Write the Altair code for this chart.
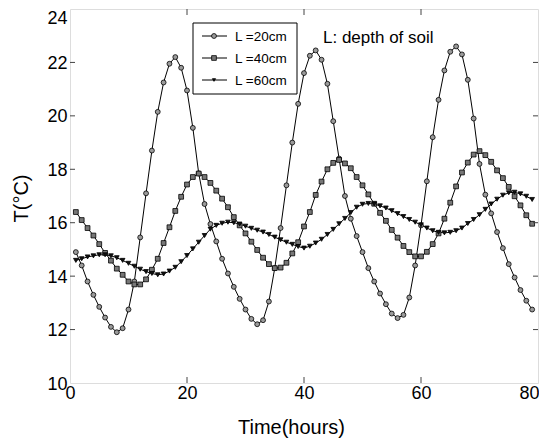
import altair as alt
import pandas as pd

# ---------------- data ----------------
hours = list(range(1, 80))

temp_20cm = [14.9, 14.4, 13.8, 13.3, 12.85, 12.45, 12.1, 11.9, 12.05, 12.75,
             13.8, 15.45, 17.1, 18.7, 20.15, 21.25, 21.95, 22.2, 21.8, 20.95,
             19.55, 17.85, 16.7, 15.95, 15.3, 14.65, 14.1, 13.6, 13.15, 12.75,
             12.4, 12.2, 12.35, 13.05, 14.3, 15.8, 17.4, 19.0, 20.45, 21.6,
             22.25, 22.45, 22.1, 21.2, 19.8, 18.4, 17.0, 16.15, 15.5, 14.9,
             14.3, 13.8, 13.35, 12.95, 12.6, 12.43, 12.55, 13.2, 14.4, 15.9,
             17.55, 19.2, 20.6, 21.7, 22.4, 22.6, 22.3, 21.35, 19.9, 18.2,
             17.05, 16.35, 15.65, 15.05, 14.45, 13.95, 13.48, 13.08, 12.75]

temp_40cm = [16.4, 16.1, 15.8, 15.52, 15.2, 14.87, 14.58, 14.28, 14.05, 13.8,
             13.69, 13.69, 13.88, 14.24, 14.65, 15.24, 15.83, 16.44, 16.97, 17.43,
             17.71, 17.84, 17.71, 17.49, 17.2, 16.9, 16.58, 16.21, 15.9, 15.6,
             15.29, 14.98, 14.69, 14.45, 14.3, 14.32, 14.5, 14.85, 15.27, 15.86,
             16.4, 17.04, 17.54, 18.0, 18.24, 18.35, 18.22, 18.04, 17.71, 17.4,
             17.06, 16.71, 16.37, 16.07, 15.73, 15.44, 15.13, 14.9, 14.74, 14.74,
             14.91, 15.2, 15.6, 16.15, 16.75, 17.36, 17.88, 18.25, 18.55, 18.68,
             18.53, 18.28, 17.96, 17.67, 17.34, 16.99, 16.65, 16.28, 15.96]

temp_60cm = [14.59, 14.65, 14.72, 14.76, 14.8, 14.8, 14.76, 14.69, 14.59, 14.48,
             14.37, 14.26, 14.17, 14.1, 14.05, 14.08, 14.19, 14.33, 14.54, 14.77,
             15.02, 15.27, 15.52, 15.76, 15.9, 15.98, 16.02, 16.0, 15.95, 15.87,
             15.79, 15.72, 15.65, 15.56, 15.46, 15.36, 15.27, 15.19, 15.11, 15.05,
             15.12, 15.24, 15.38, 15.56, 15.75, 15.96, 16.16, 16.38, 16.58, 16.69,
             16.72, 16.7, 16.63, 16.55, 16.45, 16.34, 16.23, 16.12, 16.02, 15.92,
             15.8, 15.7, 15.64, 15.62, 15.64, 15.7, 15.8, 15.97, 16.12, 16.3,
             16.5, 16.7, 16.88, 17.03, 17.12, 17.14, 17.08, 16.99, 16.87]

series_labels = ["L =20cm", "L =40cm", "L =60cm"]
x_ticks = [0, 20, 40, 60, 80]
y_ticks = [10, 12, 14, 16, 18, 20, 22, 24]
x_title = "Time(hours)"
y_title = "T(°C)"
note_text = "L: depth of soil"

# ---------------- build table ----------------
rows = []
for lab, vals in zip(series_labels, [temp_20cm, temp_40cm, temp_60cm]):
    for h, v in zip(hours, vals):
        rows.append({"hour": h, "temp": v, "series": lab})
df = pd.DataFrame(rows)

# ---------------- styling ----------------
W, H = 468, 374
FONT = "Liberation Sans"
FRAME = "#444444"
shapes = ["circle", "square", "triangle-down"]
fills = ["#9a9a9a", "#777777", "#111111"]
sizes = [24, 22, 10]

xs = alt.Scale(domain=[0, 80], nice=False, zero=False)
ys = alt.Scale(domain=[10, 24], nice=False, zero=False)

x_axis = alt.Axis(values=x_ticks, title=x_title, grid=False, domain=False,
                  ticks=False, tickSize=0, labelFont=FONT, labelFontSize=18,
                  labelColor="black", labelPadding=1, labelFlush=False,
                  labelOffset={"condition": {"test": "datum.value === 80", "value": -9},
                               "value": 0},
                  titleFont=FONT, titleFontSize=20, titleFontWeight="normal",
                  titleColor="black", titleX=221, titleY=50,
                  titleAlign="center", titleBaseline="alphabetic")
y_axis = alt.Axis(values=y_ticks, title=y_title, grid=False, domain=False,
                  ticks=False, tickSize=0, labelFont=FONT, labelFontSize=18,
                  labelColor="black", labelPadding=3, labelFlush=False,
                  labelOffset={"condition": {"test": "datum.value === 24", "value": 9},
                               "value": 1},
                  titleFont=FONT, titleFontSize=20, titleFontWeight="normal",
                  titleColor="black", titleX=-43, titleY=189,
                  titleAlign="center", titleBaseline="alphabetic")

x_enc = alt.X("hour:Q", scale=xs, axis=x_axis)
y_enc = alt.Y("temp:Q", scale=ys, axis=y_axis)

lines = alt.Chart(df).mark_line(color="black", strokeWidth=1).encode(
    x=x_enc, y=y_enc, detail="series:N")

points = alt.Chart(df).mark_point(filled=False, stroke="black",
                                  strokeWidth=0.8, opacity=1).encode(
    x=x_enc, y=y_enc,
    shape=alt.Shape("series:N", scale=alt.Scale(domain=series_labels, range=shapes), legend=None),
    fill=alt.Fill("series:N", scale=alt.Scale(domain=series_labels, range=fills), legend=None),
    size=alt.Size("series:N", scale=alt.Scale(domain=series_labels, range=sizes), legend=None),
)

# inward ticks on all four sides
ytick_df = pd.DataFrame({"temp": y_ticks[1:-1]})
xtick_df = pd.DataFrame({"hour": x_ticks[1:-1]})
tick_style = dict(color=FRAME, strokeWidth=1)
t_left = alt.Chart(ytick_df).mark_rule(**tick_style).encode(
    y=y_enc, x=alt.value(0), x2=alt.value(5))
t_right = alt.Chart(ytick_df).mark_rule(**tick_style).encode(
    y=y_enc, x=alt.value(W - 5), x2=alt.value(W))
t_bottom = alt.Chart(xtick_df).mark_rule(**tick_style).encode(
    x=x_enc, y=alt.value(H - 6), y2=alt.value(H))
t_top = alt.Chart(xtick_df).mark_rule(**tick_style).encode(
    x=x_enc, y=alt.value(0), y2=alt.value(6))

# annotation
note = alt.Chart(pd.DataFrame({"t": [note_text]})).mark_text(
    font=FONT, fontSize=17, align="left", baseline="alphabetic", color="black"
).encode(text="t:N", x=alt.value(253), y=alt.value(34))

# manual legend (line + marker)
leg_box = alt.Chart(pd.DataFrame({"a": [0]})).mark_rect(
    fill="white", stroke="black", strokeWidth=1
).encode(x=alt.value(123), x2=alt.value(227), y=alt.value(14), y2=alt.value(85))

legend_layers = [leg_box]
row_gap = 22
for i, lab in enumerate(series_labels):
    yy = 27 + i * row_gap
    one = pd.DataFrame({"series": [lab]})
    legend_layers.append(alt.Chart(one).mark_rule(color="black", strokeWidth=1).encode(
        x=alt.value(132), x2=alt.value(157), y=alt.value(yy)))
    legend_layers.append(alt.Chart(one).mark_point(
        shape=shapes[i], fill=fills[i], stroke="black", strokeWidth=0.8,
        size=sizes[i], opacity=1, filled=False
    ).encode(x=alt.value(144), y=alt.value(yy)))
    legend_layers.append(alt.Chart(one).mark_text(
        font=FONT, fontSize=13.5, align="left", baseline="middle", color="black"
    ).encode(text="series:N", x=alt.value(165), y=alt.value(yy + 1)))

chart = alt.layer(
    lines, points, t_left, t_right, t_bottom, t_top, note, *legend_layers
).properties(
    width=W, height=H,
    autosize=alt.AutoSizeParams(type="none"),
    padding={"left": 62, "top": 1, "right": 1, "bottom": 56},
).configure_view(
    stroke=FRAME, strokeWidth=1.5
).configure(background="white")

chart.save("out.html", embed_options={"renderer": "svg", "actions": False})
